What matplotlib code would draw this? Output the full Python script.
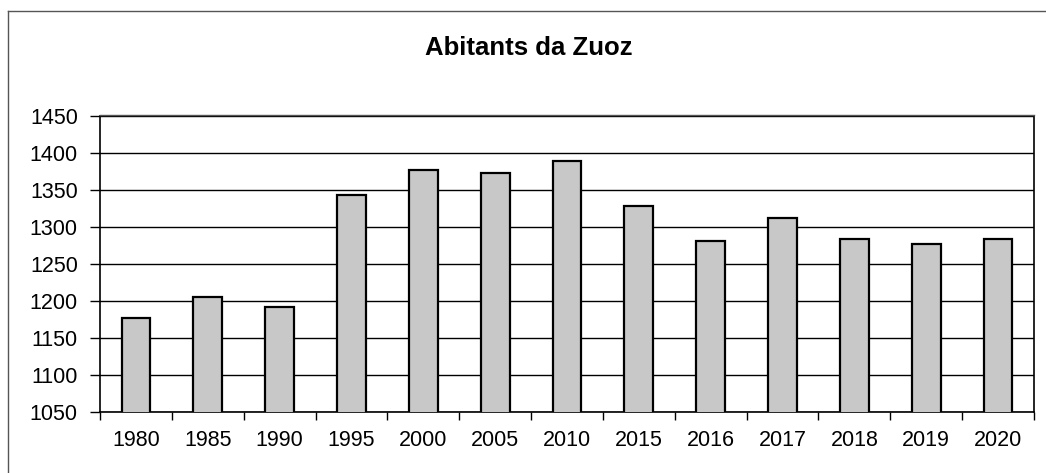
import matplotlib
matplotlib.use("Agg")
import matplotlib.pyplot as plt
from matplotlib.lines import Line2D
import numpy as np

years = ["1980", "1985", "1990", "1995", "2000", "2005", "2010",
         "2015", "2016", "2017", "2018", "2019", "2020"]
inhabitants = [1176, 1205, 1191, 1342, 1376, 1373, 1389,
               1328, 1280, 1312, 1283, 1276, 1283]
yticks = [1050, 1100, 1150, 1200, 1250, 1300, 1350, 1400, 1450]
title = "Abitants da Zuoz"

plt.rcParams['font.family'] = ['Liberation Sans', 'DejaVu Sans']

fig = plt.figure(figsize=(10.46, 4.73), dpi=100)
ax = fig.add_axes([100/1046, 1-411.7/473, (1034-100)/1046, (411.7-115.5)/473])

x = np.arange(len(years))
ax.set_axisbelow(True)
ax.yaxis.grid(True, color='black', linewidth=1.0)
ax.bar(x, inhabitants, width=0.4, bottom=0, color='#c8c8c8',
       edgecolor='black', linewidth=1.6, zorder=3)

ax.set_ylim(1050, 1450)
ax.set_xlim(-0.5, len(years) - 0.5)
ax.set_yticks(yticks)
ax.set_yticklabels([str(v) for v in yticks])
ax.set_xticks(x)
ax.set_xticklabels(years)
ax.set_xticks(np.arange(len(years) + 1) - 0.5, minor=True)
ax.tick_params(axis='x', which='major', length=0, pad=13, labelsize=15.5)
ax.tick_params(axis='x', which='minor', length=6, width=1, color='black', direction='out')
ax.tick_params(axis='y', which='major', length=7, width=1, pad=9, labelsize=15.5, direction='out')

for s in ['left', 'right', 'bottom']:
    ax.spines[s].set_color('black')
    ax.spines[s].set_linewidth(1.2)
ax.spines['top'].set_color('#555555')
ax.spines['top'].set_linewidth(1.0)

fig.text(529/1046, 1-55/473, title, ha='center', va='baseline',
         fontsize=18.5, fontweight='bold')

# outer chart border (top and left visible)
fig.add_artist(Line2D([8/1046, 1], [1-11.5/473, 1-11.5/473], transform=fig.transFigure,
                      color='#555555', linewidth=1.0))
fig.add_artist(Line2D([8/1046, 8/1046], [0, 1-11.5/473], transform=fig.transFigure,
                      color='#555555', linewidth=1.0))

fig.savefig("out.png", dpi=100)
